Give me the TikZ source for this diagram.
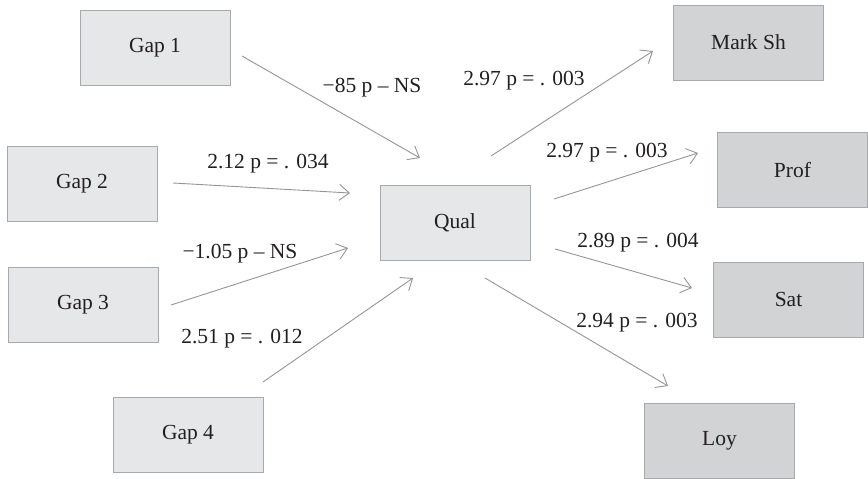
\documentclass[tikz,border=0pt]{standalone}
\usepackage{fontspec}
\setmainfont{Liberation Serif}
\usetikzlibrary{arrows.meta}
\definecolor{lightbox}{HTML}{E6E7E8}
\definecolor{darkbox}{HTML}{D1D3D4}
\definecolor{boxline}{HTML}{A7A9AC}
\definecolor{arrowcol}{HTML}{939598}
\definecolor{txt}{HTML}{231F20}
\tikzset{
  base/.style={draw=boxline, line width=1pt, minimum width=150pt, minimum height=75pt, inner sep=0pt, text=txt, font=\rmfamily\fontsize{21.5}{25}\selectfont},
  lbox/.style={base, fill=lightbox},
  dbox/.style={base, fill=darkbox},
  conn/.style={draw=arrowcol, line width=0.9pt, -{Straight Barb[length=10pt,width=16pt,line width=0.9pt]}},
  lab/.style={anchor=base, inner sep=0pt, text=txt, font=\rmfamily\fontsize{21.5}{25}\selectfont}
}
\begin{document}
\begin{tikzpicture}[x=1pt,y=-1pt]
\useasboundingbox (0,0) rectangle (868,479);
% nodes
\node[lbox] (gap1) at (155,47.5) {Gap 1};
\node[lbox] (gap2) at (82,184) {Gap 2};
\node[lbox] (gap3) at (83,304.5) {Gap 3};
\node[lbox] (gap4) at (188,434.5) {Gap 4};
\node[lbox] (qual) at (455,223) {Qual};
\node[dbox] (mark) at (748.5,42.5) {Mark Sh};
\node[dbox] (prof) at (792.5,170) {Prof};
\node[dbox] (sat) at (788.5,299.5) {Sat};
\node[dbox] (loy) at (719.5,440.5) {Loy};
% connector ends
\coordinate (g1s) at (242,56);  \coordinate (g1e) at (420,158);
\coordinate (g2s) at (173,183); \coordinate (g2e) at (350,193);
\coordinate (g3s) at (171,305); \coordinate (g3e) at (348,248);
\coordinate (g4s) at (263,382); \coordinate (g4e) at (413,278);
\coordinate (ms) at (491,156);  \coordinate (me) at (653,51);
\coordinate (ps) at (554,199);  \coordinate (pe) at (698,153);
\coordinate (ss) at (555,249);  \coordinate (se) at (692,288);
\coordinate (ls) at (485,278);  \coordinate (le) at (668,386);
% connectors
\draw[conn] (g1s) -- (g1e);
\draw[conn] (g2s) -- (g2e);
\draw[conn] (g3s) -- (g3e);
\draw[conn] (g4s) -- (g4e);
\draw[conn] (ms) -- (me);
\draw[conn] (ps) -- (pe);
\draw[conn] (ss) -- (se);
\draw[conn] (ls) -- (le);
% labels
\node[lab] (l1) at (372,92) {−85 p – NS};
\node[lab] (l2) at (268,168) {2.12 p = . 034};
\node[lab] (l3) at (240,258) {−1.05 p – NS};
\node[lab] (l4) at (242,343) {2.51 p = . 012};
\node[lab] (l5) at (524,85) {2.97 p = . 003};
\node[lab] (l6) at (607,157) {2.97 p = . 003};
\node[lab] (l7) at (638,247) {2.89 p = . 004};
\node[lab] (l8) at (637,327) {2.94 p = . 003};
\end{tikzpicture}
\end{document}
